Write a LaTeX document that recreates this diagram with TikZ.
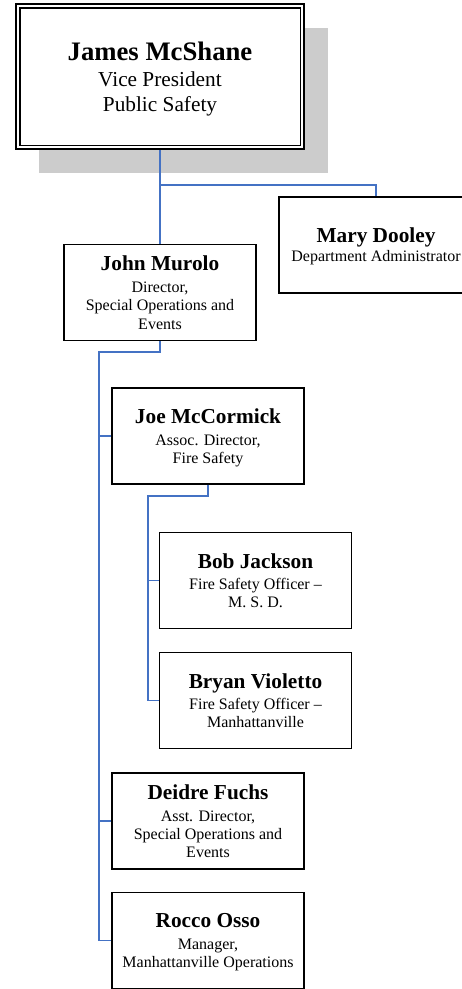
\documentclass[tikz,border=0pt]{standalone}
\usepackage{fontspec}
\setmainfont{Liberation Serif}
\definecolor{connblue}{HTML}{4472C4}
\definecolor{shadowgray}{HTML}{CCCCCC}
\newcommand\pname[1]{{\fontsize{21.3}{21.3}\selectfont\bfseries #1}}
\newcommand\topname[1]{{\fontsize{26.7}{26.7}\selectfont\bfseries #1}}
\begin{document}
\begin{tikzpicture}[x=1pt,y=-1pt,
  person/.style={draw=black, line width=1.3pt, fill=white, minimum width=192pt, minimum height=96pt,
    inner sep=0pt, align=center, text depth=0pt, font=\fontsize{16}{18.4}\selectfont},
  topbox/.style={draw=black, line width=2.2pt, fill=white, minimum width=288pt, minimum height=145pt,
    inner sep=0pt, align=center, text depth=0pt, font=\fontsize{21.3}{25}\selectfont},
  conn/.style={draw=connblue, line width=1.5pt}]
\useasboundingbox (0,0) rectangle (462,989);
\fill[white] (0,0) rectangle (462,989);
% shadow
\fill[shadowgray] (39,28) rectangle (328,173);
% top box
\node[topbox] (top) at (160,76.5) {\topname{James McShane}\\[1pt]Vice President\\Public Safety};
\draw[line width=1.2pt] ([shift={(5,5)}]top.north west) rectangle ([shift={(-5,-5)}]top.south east);
% people
\node[person, minimum width=194pt] (mary) at (376,245) {\pname{Mary Dooley}\\[0.6pt]Department Administrator};
\node[person] (john) at (160,292.5) {\pname{John Murolo}\\[3.3pt]Director,\\Special Operations and\\Events};
\node[person] (joe) at (208,436) {\pname{Joe McCormick}\\[3.3pt]Assoc. Director,\\Fire Safety};
\node[person] (bob) at (255.5,580.5) {\pname{Bob Jackson}\\[2.8pt]Fire Safety Officer --\\M. S. D.};
\node[person] (bryan) at (255.5,700.5) {\pname{Bryan Violetto}\\[2.5pt]Fire Safety Officer --\\Manhattanville};
\node[person] (deidre) at (208,821) {\pname{Deidre Fuchs}\\[3.6pt]Asst. Director,\\Special Operations and\\Events};
\node[person] (rocco) at (208,940.5) {\pname{Rocco Osso}\\[3.6pt]Manager,\\Manhattanville Operations};
% connectors
\coordinate (tb) at (160,185);
\coordinate (s1) at (99,352);
\coordinate (s2) at (148,496);
\draw[conn] (top.south) -- (john.north);
\draw[conn] (tb) -| (mary.north);
\draw[conn] (john.south) |- (s1) -- (s1 |- rocco.west) -- (rocco.west);
\draw[conn] (s1 |- joe.west) -- (joe.west);
\draw[conn] (s1 |- deidre.west) -- (deidre.west);
\draw[conn] (joe.south) |- (s2) -- (s2 |- bryan.west) -- (bryan.west);
\draw[conn] (s2 |- bob.west) -- (bob.west);
\end{tikzpicture}
\end{document}
